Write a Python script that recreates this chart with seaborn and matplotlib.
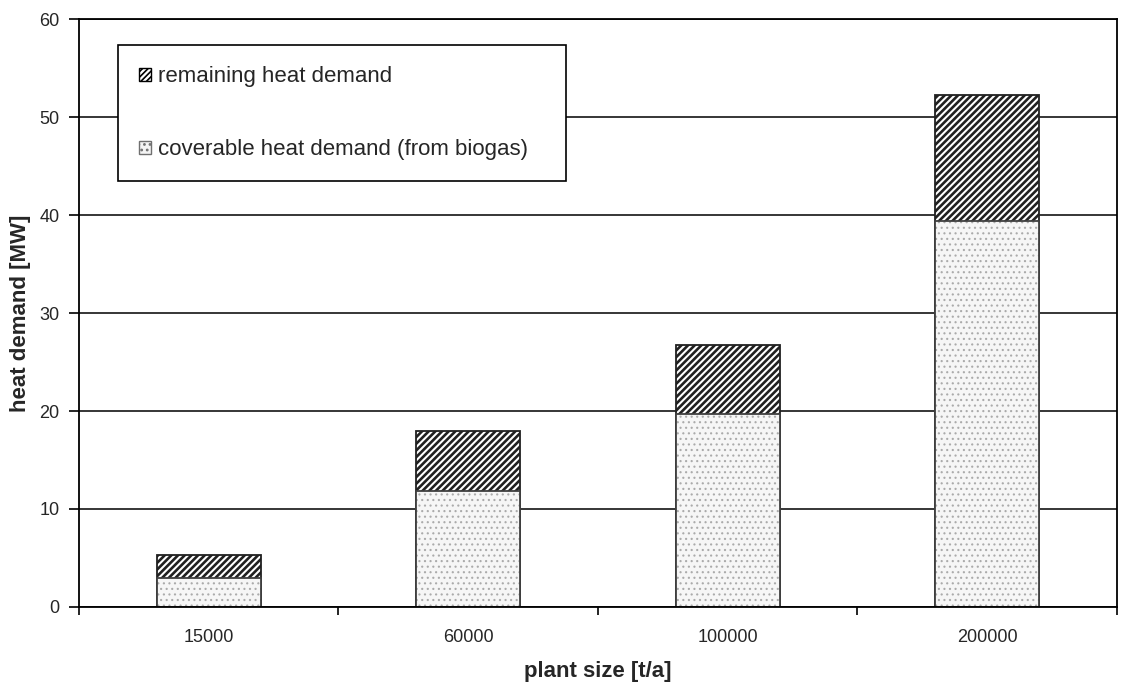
import numpy as np
import pandas as pd
import matplotlib
matplotlib.use("Agg")
import matplotlib.pyplot as plt
from matplotlib.patches import Patch
import seaborn as sns

# Heat demand of biogas plants by plant size
plant_sizes = ["15000", "60000", "100000", "200000"]
coverable_mw = [3.0, 11.8, 19.7, 39.4]     # coverable heat demand (from biogas)
remaining_mw = [2.3, 6.2, 7.0, 12.9]       # remaining heat demand
y_ticks = [0, 10, 20, 30, 40, 50, 60]

df = pd.DataFrame({
    "size": plant_sizes,
    "coverable": coverable_mw,
    "remaining": remaining_mw,
})
df["total"] = df["coverable"] + df["remaining"]

sns.set_style("ticks")
plt.rcParams["font.family"] = ["Liberation Sans", "DejaVu Sans"]

fig = plt.figure(figsize=(11.22, 6.82), dpi=100)
ax = fig.add_axes([0.0704, 0.110, 0.9251, 0.862])

bar_w = 0.4
# upper (hatched) segment: drawn at full stack height, lower segment covers it
plt.rcParams["hatch.linewidth"] = 1.9
sns.barplot(data=df, x="size", y="total", order=plant_sizes, ax=ax,
            width=bar_w, color="white", edgecolor="#202020", linewidth=1.3,
            hatch="/////", saturation=1)
# lower (dotted) segment with fine light dots
plt.rcParams["hatch.linewidth"] = 0.8
sns.barplot(data=df, x="size", y="coverable", order=plant_sizes, ax=ax,
            width=bar_w, color="#f6f6f6", edgecolor="#ababab", linewidth=0,
            hatch="...", saturation=1)
sns.barplot(data=df, x="size", y="coverable", order=plant_sizes, ax=ax,
            width=bar_w, fill=False, edgecolor="#404040", linewidth=1.3,
            saturation=1)

ax.set_xlim(-0.5, 3.5)
ax.set_ylim(0, 60)
ax.set_yticks(y_ticks)
ax.set_yticklabels([str(v) for v in y_ticks])
ax.yaxis.grid(True, color="black", linewidth=1.1)
ax.set_axisbelow(True)

# category labels sit between the boundary tick marks
ax.set_xticks(np.arange(-0.5, 4.0, 1.0), labels=[""] * 5)
ax.set_xticks(np.arange(len(plant_sizes)), labels=plant_sizes, minor=True)
ax.tick_params(axis="x", which="major", length=6, width=1.2, direction="out",
               color="black")
ax.tick_params(axis="x", which="minor", length=0, pad=16, labelsize=13)
ax.tick_params(axis="y", length=7, width=1.2, direction="out", pad=7,
               labelsize=13, color="black")

for side in ["left", "right", "top", "bottom"]:
    ax.spines[side].set_visible(True)
    ax.spines[side].set_color("black")
    ax.spines[side].set_linewidth(1.3)

ax.set_xlabel("plant size [t/a]", fontsize=16, fontweight="bold", labelpad=11)
ax.set_ylabel("heat demand [MW]", fontsize=16, fontweight="bold", labelpad=6)

plt.rcParams["hatch.linewidth"] = 1.2
handles = [
    Patch(facecolor="white", edgecolor="black", hatch="//////", linewidth=1.0,
          label="remaining heat demand"),
    Patch(facecolor="#f4f4f4", edgecolor="#707070", hatch="...", linewidth=1.0,
          label="coverable heat demand (from biogas)"),
]
leg = ax.legend(handles=handles, loc="upper left",
                bbox_to_anchor=(0.0376, 0.724, 0.4316, 0.232), mode="expand",
                borderaxespad=0, fontsize=16, frameon=True, fancybox=False,
                framealpha=1, edgecolor="black", borderpad=0.95,
                labelspacing=2.35, handlelength=0.55, handleheight=0.55,
                handletextpad=0.3)
leg.get_frame().set_linewidth(1.2)

fig.savefig("out.png", dpi=100)
